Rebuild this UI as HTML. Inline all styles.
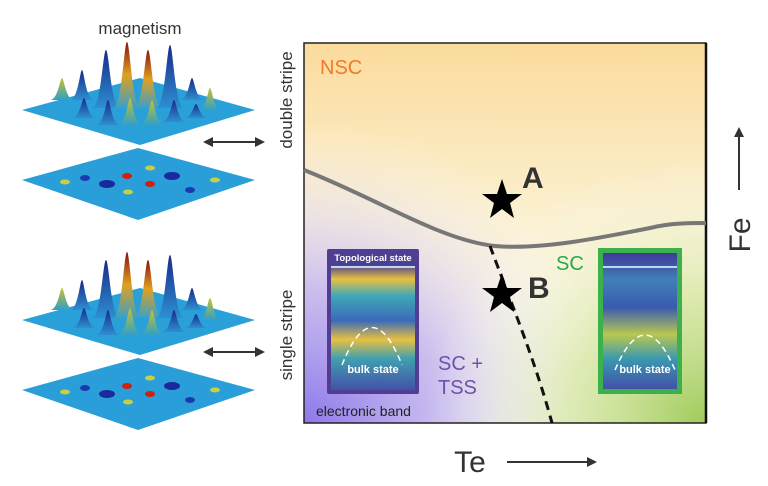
<!DOCTYPE html>
<html><head><meta charset="utf-8"><style>
html,body{margin:0;padding:0;background:#fff;}
svg{display:block;font-family:"Liberation Sans",Arial,sans-serif;}
</style></head><body>
<svg width="768" height="486" viewBox="0 0 768 486" xmlns="http://www.w3.org/2000/svg">
<defs>
<linearGradient id="bgY" x1="0" y1="0" x2="0" y2="1">
<stop offset="0" stop-color="#fbdb9d"/><stop offset="0.45" stop-color="#fbf0cf"/><stop offset="1" stop-color="#fdfaf0"/>
</linearGradient>
<radialGradient id="pur" cx="0" cy="1" r="0.8">
<stop offset="0" stop-color="#8e78ea"/><stop offset="0.45" stop-color="#c4b6f0" stop-opacity="0.85"/><stop offset="1" stop-color="#ffffff" stop-opacity="0"/>
</radialGradient>
<radialGradient id="grn" cx="1" cy="1" r="0.7">
<stop offset="0" stop-color="#9fcb5a"/><stop offset="0.5" stop-color="#d3e6a0" stop-opacity="0.7"/><stop offset="1" stop-color="#ffffff" stop-opacity="0"/>
</radialGradient>
<linearGradient id="pk" x1="0" y1="0" x2="0" y2="1">
<stop offset="0" stop-color="#1a2a8c"/><stop offset="1" stop-color="#2d8fd0"/>
</linearGradient>
<linearGradient id="pr" x1="0" y1="0" x2="0" y2="1">
<stop offset="0" stop-color="#8a1010"/><stop offset="0.5" stop-color="#e0a020"/><stop offset="1" stop-color="#3aa0c8"/>
</linearGradient>
<linearGradient id="py" x1="0" y1="0" x2="0" y2="1">
<stop offset="0" stop-color="#c8c030"/><stop offset="1" stop-color="#30a0c8"/>
</linearGradient>
<linearGradient id="band" x1="0" y1="0" x2="0" y2="1">
<stop offset="0" stop-color="#3d3a9a"/><stop offset="0.12" stop-color="#e8c040"/><stop offset="0.25" stop-color="#40a8b8"/><stop offset="0.45" stop-color="#3a6ab8"/><stop offset="0.6" stop-color="#e8c040"/><stop offset="0.75" stop-color="#40a0b0"/><stop offset="1" stop-color="#4450a8"/>
</linearGradient>
<linearGradient id="band2" x1="0" y1="0" x2="0" y2="1">
<stop offset="0" stop-color="#3d3a9a"/><stop offset="0.2" stop-color="#4080b8"/><stop offset="0.4" stop-color="#3a5ab0"/><stop offset="0.6" stop-color="#b8c850"/><stop offset="0.78" stop-color="#3a98b0"/><stop offset="1" stop-color="#4450a8"/>
</linearGradient>
<marker id="ah" markerWidth="5" markerHeight="5" refX="2.5" refY="2.5" orient="auto-start-reverse"><path d="M0,0 L5,2.5 L0,5 Z" fill="#333"/></marker>
</defs>

<rect x="304" y="43" width="402" height="380" fill="url(#bgY)"/>
<rect x="304" y="43" width="402" height="380" fill="url(#pur)"/>
<rect x="304" y="43" width="402" height="380" fill="url(#grn)"/>
<rect x="304" y="43" width="402" height="380" fill="none" stroke="#222" stroke-width="1.5"/>
<line x1="706" y1="43" x2="706" y2="423" stroke="#111" stroke-width="2.5"/>
<path d="M304,170 C380,200 440,240 495,246 C540,250 600,238 650,228 C670,223 690,223 706,223" fill="none" stroke="#777" stroke-width="4"/>
<path d="M490,246 C510,300 535,360 552,423" fill="none" stroke="#111" stroke-width="3" stroke-dasharray="9,6"/>
<text x="320" y="74" font-size="20" fill="#f07a2a">NSC</text>
<text x="556" y="270" font-size="20" fill="#2aa84a">SC</text>
<text x="438" y="370" font-size="20" fill="#7050a8">SC +</text>
<text x="438" y="394" font-size="20" fill="#7050a8">TSS</text>
<text x="316" y="416" font-size="14" fill="#222">electronic band</text>
<path d="M502,179 L507,194 L522,194 L510,203 L514,218 L502,209 L490,218 L494,203 L482,194 L497,194 Z" fill="#000"/>
<path d="M502,273 L507,288 L522,288 L510,297 L514,312 L502,303 L490,312 L494,297 L482,288 L497,288 Z" fill="#000"/>
<text x="522" y="188" font-size="30" font-weight="bold" fill="#333">A</text>
<text x="528" y="298" font-size="30" font-weight="bold" fill="#333">B</text>

<rect x="327" y="249" width="92" height="145" fill="#4f3e92" rx="2"/>
<rect x="331" y="264" width="84" height="126" fill="url(#band)"/>
<line x1="331" y1="267" x2="415" y2="267" stroke="#e8ffff" stroke-width="1.5"/>
<text x="373" y="261" font-size="9.5" font-weight="bold" fill="#fff" text-anchor="middle">Topological state</text>
<path d="M342,365 Q372,290 402,365" fill="none" stroke="#fff" stroke-width="1.5" stroke-dasharray="6,4"/>
<text x="373" y="373" font-size="11" font-weight="bold" fill="#fff" text-anchor="middle">bulk state</text>
<rect x="598" y="248" width="84" height="146" fill="#3cb04a"/>
<rect x="603" y="253" width="74" height="136" fill="url(#band2)"/>
<line x1="603" y1="267" x2="677" y2="267" stroke="#e8ffff" stroke-width="1.5"/>
<path d="M615,370 Q645,300 675,370" fill="none" stroke="#fff" stroke-width="1.5" stroke-dasharray="6,4"/>
<text x="645" y="373" font-size="11" font-weight="bold" fill="#fff" text-anchor="middle">bulk state</text>

<text x="470" y="472" font-size="30" fill="#333" text-anchor="middle">Te</text>
<line x1="507" y1="462" x2="592" y2="462" stroke="#333" stroke-width="2" marker-end="url(#ah)"/>
<text transform="translate(750,235) rotate(-90)" font-size="30" fill="#333" text-anchor="middle">Fe</text>
<line x1="739" y1="190" x2="739" y2="132" stroke="#333" stroke-width="2" marker-end="url(#ah)"/>
<text transform="translate(292,100) rotate(-90)" font-size="17" fill="#333" text-anchor="middle">double stripe</text>
<text transform="translate(292,335) rotate(-90)" font-size="17" fill="#333" text-anchor="middle">single stripe</text>
<text x="140" y="34" font-size="17" fill="#333" text-anchor="middle">magnetism</text>

<line x1="208" y1="142" x2="260" y2="142" stroke="#333" stroke-width="2" marker-start="url(#ah)" marker-end="url(#ah)"/>
<line x1="208" y1="352" x2="260" y2="352" stroke="#333" stroke-width="2" marker-start="url(#ah)" marker-end="url(#ah)"/>

<g id="surf">
<path d="M22,110 L140,78 L255,110 L140,145 Z" fill="#2aa0d8"/>
<path d="M50,100 C58,100 60,78 62,78 C64,78 66,100 74,100 Z" fill="url(#py)"/>
<path d="M70,100 C78,100 80,70 82,70 C84,70 86,100 94,100 Z" fill="url(#pk)"/>
<path d="M92,108 C101,108 103,50 106,50 C109,50 111,108 120,108 Z" fill="url(#pk)"/>
<path d="M113,108 C122,108 124,42 127,42 C130,42 132,108 141,108 Z" fill="url(#pr)"/>
<path d="M134,108 C143,108 145,50 148,50 C151,50 153,108 162,108 Z" fill="url(#pr)"/>
<path d="M156,108 C165,108 167,45 170,45 C173,45 175,108 184,108 Z" fill="url(#pk)"/>
<path d="M180,100 C188,100 190,78 192,78 C194,78 196,100 204,100 Z" fill="url(#pk)"/>
<path d="M200,110 C206,110 208,88 210,88 C212,88 214,110 220,110 Z" fill="url(#py)"/>
<path d="M72,118 C80,118 82,98 84,98 C86,98 88,118 96,118 Z" fill="url(#pk)"/>
<path d="M96,125 C104,125 106,100 108,100 C110,100 112,125 120,125 Z" fill="url(#pk)"/>
<path d="M118,125 C126,125 128,98 130,98 C132,98 134,125 142,125 Z" fill="url(#py)"/>
<path d="M140,125 C148,125 150,100 152,100 C154,100 156,125 164,125 Z" fill="url(#py)"/>
<path d="M162,122 C170,122 172,100 174,100 C176,100 178,122 186,122 Z" fill="url(#pk)"/>
<path d="M184,118 C192,118 194,104 196,104 C198,104 200,118 208,118 Z" fill="url(#pk)"/>
<path d="M22,180 L138,148 L255,180 L138,220 Z" fill="#2a9ed8"/>
<ellipse cx="127" cy="176" rx="5" ry="3" fill="#d02010"/>
<ellipse cx="150" cy="184" rx="5" ry="3" fill="#d02010"/>
<ellipse cx="107" cy="184" rx="8" ry="4" fill="#1a2a9c"/>
<ellipse cx="172" cy="176" rx="8" ry="4" fill="#1a2a9c"/>
<ellipse cx="85" cy="178" rx="5" ry="3" fill="#1a3ab0"/>
<ellipse cx="190" cy="190" rx="5" ry="3" fill="#1a3ab0"/>
<ellipse cx="128" cy="192" rx="5" ry="2.5" fill="#c8d040"/>
<ellipse cx="150" cy="168" rx="5" ry="2.5" fill="#c8d040"/>
<ellipse cx="65" cy="182" rx="5" ry="2.5" fill="#c8d040"/>
<ellipse cx="215" cy="180" rx="5" ry="2.5" fill="#c8d040"/>
</g>
<use href="#surf" transform="translate(0,210)"/>
</svg>
</body></html>
